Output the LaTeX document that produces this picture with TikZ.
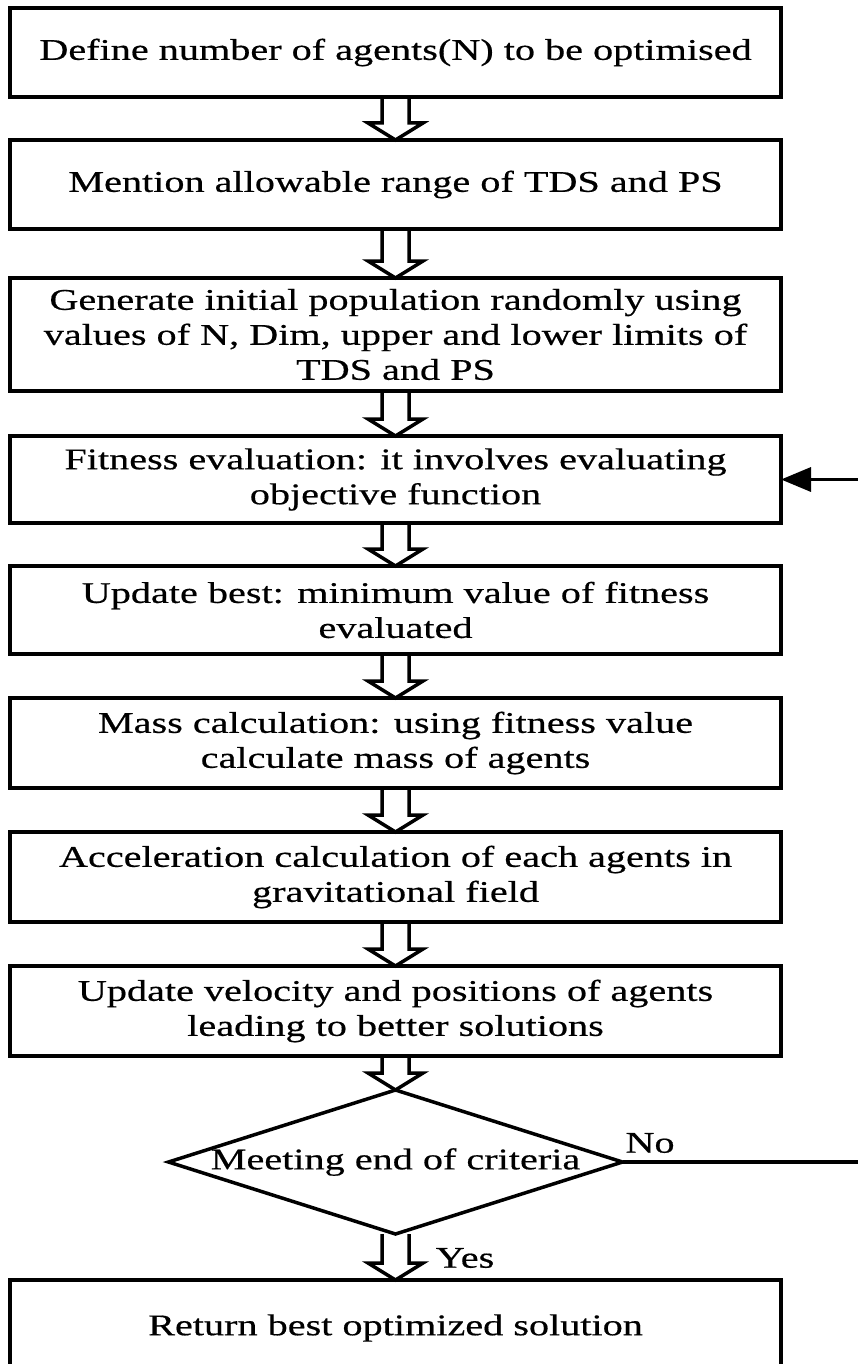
\documentclass[tikz,border=0pt]{standalone}
\usepackage{fontspec}
\setmainfont{Liberation Serif}[FakeStretch=1.34,FakeBold=0.5]
\usetikzlibrary{shapes.geometric,arrows.meta,calc}
\newcommand{\flowfont}{\fontsize{30}{35}\selectfont}
\tikzset{
  procbox/.style={draw, line width=4pt, rectangle, minimum width=771pt,
    outer sep=0pt, inner sep=0pt, align=center, font=\flowfont},
  decision/.style={draw, line width=3.5pt, diamond, minimum width=454pt,
    minimum height=144pt, inner sep=0pt, outer sep=0pt, font=\flowfont},
  hollow/.style={draw, line width=3.5pt, line join=miter},
  feedback/.style={draw, line width=3.5pt, -{Triangle[length=30pt,width=24pt]}},
  lbl/.style={inner sep=0pt, font=\flowfont}
}
\newcommand{\harrow}[2]{%
  \draw[hollow] let \p1=(#1.south), \p2=(#2.north) in
    (\x1-13.5pt,\y1) -- (\x1-13.5pt,\y2+17pt) -- (\x1-27.5pt,\y2+17pt)
    -- (\x1,\y2) -- (\x1+27.5pt,\y2+17pt) -- (\x1+13.5pt,\y2+17pt)
    -- (\x1+13.5pt,\y1);}
\begin{document}
\begin{tikzpicture}[x=1pt,y=-1pt]
\useasboundingbox (0,0) rectangle (857,1364);
\fill[white] (0,0) rectangle (857,1364);

\node[procbox, minimum height=89pt] (b1) at (395.5,52.5)
  {Define number of agents(N) to be optimised};
\node[procbox, minimum height=89pt] (b2) at (395.5,184.5)
  {Mention allowable range of TDS and PS};
\node[procbox, minimum height=113pt] (b3) at (395.5,334.5)
  {Generate initial population randomly using\\values of N, Dim, upper and lower limits of\\TDS and PS};
\node[procbox, minimum height=87pt] (b4) at (395.5,479.5)
  {Fitness evaluation: it involves evaluating\\objective function};
\node[procbox, minimum height=88pt] (b5) at (395.5,610)
  {Update best: minimum value of fitness\\evaluated};
\node[procbox, minimum height=90pt] (b6) at (395.5,743)
  {Mass calculation: using fitness value\\calculate mass of agents};
\node[procbox, minimum height=90pt] (b7) at (395.5,877)
  {Acceleration calculation of each agents in\\gravitational field};
\node[procbox, minimum height=90pt] (b8) at (395.5,1011)
  {Update velocity and positions of agents\\leading to better solutions};
\node[decision] (dec) at (395.5,1162)
  {\makebox[0pt]{Meeting end of criteria}};
\node[procbox, minimum height=96pt] (b9) at (395.5,1328)
  {Return best optimized solution};

\harrow{b1}{b2}
\harrow{b2}{b3}
\harrow{b3}{b4}
\harrow{b4}{b5}
\harrow{b5}{b6}
\harrow{b6}{b7}
\harrow{b7}{b8}
\harrow{b8}{dec}
\harrow{dec}{b9}

\coordinate (loopcorner) at (885,1162);
\draw[feedback] (dec.east) -- (loopcorner) |- (b4.east);

\node[lbl] (nolbl) at (650,1143) {No};
\node[lbl] (yeslbl) at (465,1258) {Yes};
\end{tikzpicture}
\end{document}
